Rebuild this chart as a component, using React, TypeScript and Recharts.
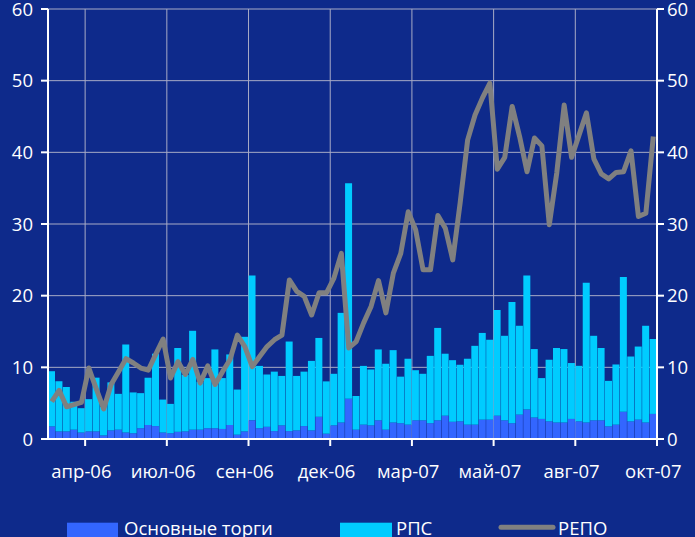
import React from 'react'
import {
  ComposedChart,
  Bar,
  Line,
  XAxis,
  YAxis,
  CartesianGrid,
  ReferenceLine,
  Legend,
} from 'recharts'

// weekly turnover, bn rub
const mainTrades = [
  1.76, 1.06, 1.06, 1.3, 0.9, 1.06, 1.06, 0.5, 1.2, 1.3,
  0.9, 0.8, 1.5, 1.95, 1.8, 0.9, 0.8, 1.0, 1.06, 1.3,
  1.3, 1.5, 1.5, 1.4, 1.95, 0.6, 1.06, 2.6, 1.5, 1.7,
  1.1, 1.9, 1.1, 1.2, 1.8, 1.2, 3.1, 0.74, 1.9, 2.3,
  5.6, 1.3, 2.0, 1.9, 2.6, 1.3, 2.3, 2.2, 2.0, 2.6,
  2.6, 2.2, 2.6, 3.25, 2.4, 2.46, 2.0, 2.0, 2.7, 2.7,
  3.25, 2.6, 2.2, 3.4, 4.1, 3.0, 2.8, 2.46, 2.3, 2.3,
  2.8, 2.46, 2.3, 2.6, 2.6, 1.76, 2.0, 3.8, 2.46, 2.7,
  2.3, 3.5,
]

const rps = [
  7.7, 7.0, 6.2, 3.9, 3.4, 4.5, 7.5, 4.0, 6.7, 5.0,
  12.3, 5.7, 4.9, 6.6, 10.1, 4.6, 4.1, 11.7, 7.9, 13.8,
  6.7, 7.0, 11.0, 7.1, 9.85, 6.3, 13.2, 20.2, 8.7, 7.3,
  8.3, 6.9, 12.5, 7.6, 7.6, 9.7, 11.0, 7.3, 7.2, 15.3,
  30.1, 4.7, 8.2, 7.8, 9.9, 9.2, 10.1, 6.5, 9.2, 7.0,
  6.5, 9.4, 12.9, 8.65, 8.6, 7.9, 9.2, 11.0, 12.1, 11.15,
  14.75, 11.8, 16.9, 12.4, 18.7, 9.55, 5.7, 8.6, 10.4, 10.25,
  7.8, 7.75, 19.5, 11.8, 10.1, 6.35, 8.4, 18.8, 9.05, 10.2,
  13.5, 10.45,
]

const repo = [
  5.2, 6.8, 4.5, 4.8, 5.1, 9.9, 7.0, 4.2, 7.6, 9.4,
  11.2, 10.6, 9.9, 9.6, 11.8, 13.95, 8.5, 10.8, 9.0, 11.1,
  7.8, 10.2, 7.6, 9.4, 11.06, 14.5, 12.9, 10.1, 11.5, 12.9,
  13.85, 14.5, 22.2, 20.6, 19.9, 17.3, 20.4, 20.4, 22.45, 25.9,
  12.7, 13.6, 16.2, 18.5, 22.1, 17.6, 23.15, 25.9, 31.7, 29.2,
  23.6, 23.6, 31.2, 29.4, 25.0, 33.0, 41.7, 45.2, 47.6, 49.65,
  37.65, 39.3, 46.4, 42.2, 37.3, 42.0, 40.9, 29.9, 37.1, 46.6,
  39.3, 42.4, 45.5, 39.1, 37.0, 36.3, 37.2, 37.3, 40.2, 31.05,
  31.5, 42.2,
]

// month labels and the week they sit under
const monthLabels = ['апр-06', 'июл-06', 'сен-06', 'дек-06', 'мар-07', 'май-07', 'авг-07', 'окт-07']
const labelWeeks = [4, 15, 26, 37, 48, 59, 70, 81]
const yTicks = [0, 10, 20, 30, 40, 50, 60]

const data = repo.map((v, i) => ({
  week: i,
  main: mainTrades[i],
  rps: rps[i],
  repo: v,
}))

const BG = '#0e2a8b'
const GRID = '#a8abc6'
const FONT = '"Open Sans", sans-serif'
const FS = 18.5
const PLOT_W = 609

const XTick = (props: any) => {
  const { x, y, payload } = props
  const k = labelWeeks.indexOf(payload.value)
  if (k < 0) return null
  const half = payload.offset ?? PLOT_W / data.length / 2
  return (
    <g>
      <line x1={x + half} x2={x + half} y1={y} y2={y + 7} stroke="#fff" strokeWidth={2} />
      <text x={x} y={y + 38.5} fill="#fff" fontSize={FS} fontFamily={FONT} textAnchor="middle">
        {monthLabels[k]}
      </text>
    </g>
  )
}

const LegendBox = () => (
  <svg width={695} height={30} style={{ display: 'block' }}>
    <rect x={67} y={15.7} width={51} height={20} fill="#3366ff" />
    <text x={124} y={28} fill="#fff" fontSize={FS} fontFamily={FONT}>Основные торги</text>
    <rect x={340} y={15.7} width={52} height={20} fill="#00ccff" />
    <text x={396} y={28} fill="#fff" fontSize={FS} fontFamily={FONT}>РПС</text>
    <line x1={501} x2={553} y1={20.3} y2={20.3} stroke="#808080" strokeWidth={5} strokeLinecap="round" />
    <text x={558} y={28} fill="#fff" fontSize={FS} fontFamily={FONT}>РЕПО</text>
  </svg>
)

export default function App() {
  return (
    <div style={{ position: 'absolute', left: 0, top: 0, width: 695, height: 537, background: BG, overflow: 'hidden' }}>
      <ComposedChart
        width={695}
        height={537}
        data={data}
        margin={{ top: 9, right: 0, bottom: 0, left: 0 }}
        barCategoryGap={0}
        barGap={0}
      >
        <CartesianGrid yAxisId="left" vertical={false} stroke={GRID} strokeWidth={1} />
        {labelWeeks.slice(0, -1).map((w) => (
          <ReferenceLine key={w} x={w} yAxisId="left" position="end" stroke={GRID} strokeWidth={1} zIndex={-100} />
        ))}
        <XAxis
          dataKey="week"
          type="category"
          height={68}
          interval={0}
          tickSize={0}
          tickMargin={0}
          tickLine={false}
          axisLine={{ stroke: '#fff', strokeWidth: 2 }}
          tick={<XTick />}
        />
        <YAxis
          yAxisId="left"
          width={48}
          domain={[0, 60]}
          ticks={yTicks}
          interval={0}
          tickSize={7}
          tickMargin={8}
          axisLine={{ stroke: '#fff', strokeWidth: 2 }}
          tickLine={{ stroke: '#fff', strokeWidth: 2 }}
          tick={{ fill: '#fff', fontSize: FS, fontFamily: FONT }}
        />
        <YAxis
          yAxisId="right"
          orientation="right"
          width={38}
          domain={[0, 60]}
          ticks={yTicks}
          interval={0}
          tickSize={7}
          tickMargin={3}
          axisLine={{ stroke: '#fff', strokeWidth: 2 }}
          tickLine={{ stroke: '#fff', strokeWidth: 2 }}
          tick={{ fill: '#fff', fontSize: FS, fontFamily: FONT }}
        />
        <Bar yAxisId="left" dataKey="main" name="Основные торги" stackId="v" fill="#3366ff" isAnimationActive={false} />
        <Bar yAxisId="left" dataKey="rps" name="РПС" stackId="v" fill="#00ccff" isAnimationActive={false} />
        <Line
          yAxisId="right"
          dataKey="repo"
          name="РЕПО"
          type="linear"
          stroke="#808080"
          strokeWidth={5}
          strokeLinejoin="round"
          dot={false}
          isAnimationActive={false}
        />
        <Legend verticalAlign="bottom" align="left" content={<LegendBox />} wrapperStyle={{ left: 0, width: 695 }} />
      </ComposedChart>
    </div>
  )
}
